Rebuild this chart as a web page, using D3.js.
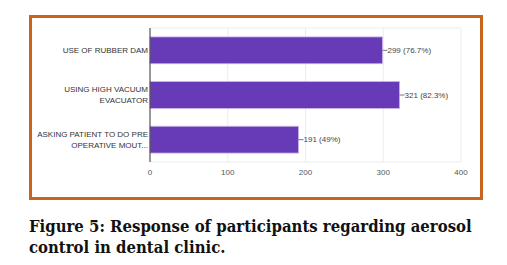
<!DOCTYPE html>
<html>
<head>
<meta charset="utf-8">
<script src="https://cdn.jsdelivr.net/npm/d3@7"></script>
<style>
  body { margin: 0; background: #fff; }
  svg { display: block; }
</style>
</head>
<body>
<svg id="chart" width="507" height="265"></svg>
<script>
const categories = [
  ['USE OF RUBBER DAM'],
  ['USING HIGH VACUUM', 'EVACUATOR'],
  ['ASKING PATIENT TO DO PRE', 'OPERATIVE MOUT...'],
];
const counts = [299, 321, 191];
const percents = ['76.7%', '82.3%', '49%'];
const xTicks = [0, 100, 200, 300, 400];
const captionLines = [
  'Figure 5: Response of participants regarding aerosol',
  'control in dental clinic.',
];

const svg = d3.select('#chart');

// orange frame
svg.append('rect')
  .attr('x', 30.5).attr('y', 16.5)
  .attr('width', 451).attr('height', 182)
  .attr('fill', '#fff')
  .attr('stroke', '#c8641e')
  .attr('stroke-width', 3);

const plot = { left: 150, right: 461, top: 28, bottom: 162 };

const x = d3.scaleLinear().domain([0, 400]).range([plot.left, plot.right]);
const y = d3.scaleBand()
  .domain(d3.range(categories.length))
  .range([plot.top, plot.bottom])
  .paddingInner(0.4)
  .paddingOuter(0.2);

// grid
const grid = svg.append('g');
grid.selectAll('line.v')
  .data(xTicks.slice(1))
  .join('line')
  .attr('x1', (d) => x(d)).attr('x2', (d) => x(d))
  .attr('y1', plot.top).attr('y2', plot.bottom)
  .attr('stroke', '#ececec');
grid.selectAll('line.h')
  .data([plot.top, plot.bottom])
  .join('line')
  .attr('x1', plot.left).attr('x2', plot.right)
  .attr('y1', (d) => d).attr('y2', (d) => d)
  .attr('stroke', '#ececec');

// bars
svg.append('g')
  .selectAll('rect')
  .data(counts)
  .join('rect')
  .attr('x', x(0))
  .attr('y', (d, i) => y(i))
  .attr('width', (d) => x(d) - x(0))
  .attr('height', y.bandwidth())
  .attr('fill', '#673ab7')
  .attr('stroke', '#c7b2ea')
  .attr('stroke-width', 0.8);

// value labels with leader line
const vals = svg.append('g');
vals.selectAll('line')
  .data(counts)
  .join('line')
  .attr('x1', (d) => x(d)).attr('x2', (d) => x(d) + 5)
  .attr('y1', (d, i) => y(i) + y.bandwidth() / 2)
  .attr('y2', (d, i) => y(i) + y.bandwidth() / 2)
  .attr('stroke', '#777');
vals.selectAll('text')
  .data(counts)
  .join('text')
  .attr('x', (d) => x(d) + 5)
  .attr('y', (d, i) => y(i) + y.bandwidth() / 2)
  .attr('dy', '0.35em')
  .attr('font-family', 'Liberation Sans, Arial, sans-serif')
  .attr('font-size', 8)
  .attr('fill', '#444')
  .text((d, i) => `${d} (${percents[i]})`);

// category labels
const cats = svg.append('g');
categories.forEach((lines, i) => {
  const cy = y(i) + y.bandwidth() / 2;
  const t = cats.append('text')
    .attr('text-anchor', 'end')
    .attr('font-family', 'Liberation Sans, Arial, sans-serif')
    .attr('font-size', 8)
    .attr('fill', '#333');
  lines.forEach((s, j) => {
    t.append('tspan')
      .attr('x', plot.left - 2)
      .attr('y', cy + (j - (lines.length - 1) / 2) * 11)
      .attr('dy', '0.35em')
      .text(s);
  });
});

// axes
svg.append('line')
  .attr('x1', plot.left).attr('x2', plot.left)
  .attr('y1', plot.top).attr('y2', plot.bottom)
  .attr('stroke', '#333');

svg.append('g')
  .selectAll('text')
  .data(xTicks)
  .join('text')
  .attr('x', (d) => x(d))
  .attr('y', 172)
  .attr('dy', '0.35em')
  .attr('text-anchor', 'middle')
  .attr('font-family', 'Liberation Sans, Arial, sans-serif')
  .attr('font-size', 8)
  .attr('fill', '#555')
  .text((d) => d);

// caption: squeeze horizontally so line 1 is 443px wide, like the reference
const cap = svg.append('g');
const capBase = [232, 252.5];
const capTexts = captionLines.map((s, i) => cap.append('text')
  .attr('font-family', 'DejaVu Serif, serif')
  .attr('font-weight', 'bold')
  .attr('font-size', 16.5)
  .attr('fill', '#111')
  .text(s));
const k = 443 / capTexts[0].node().getComputedTextLength();
capTexts.forEach((t, i) => t.attr('transform', `translate(29,${capBase[i]}) scale(${k},1)`));
</script>
</body>
</html>
